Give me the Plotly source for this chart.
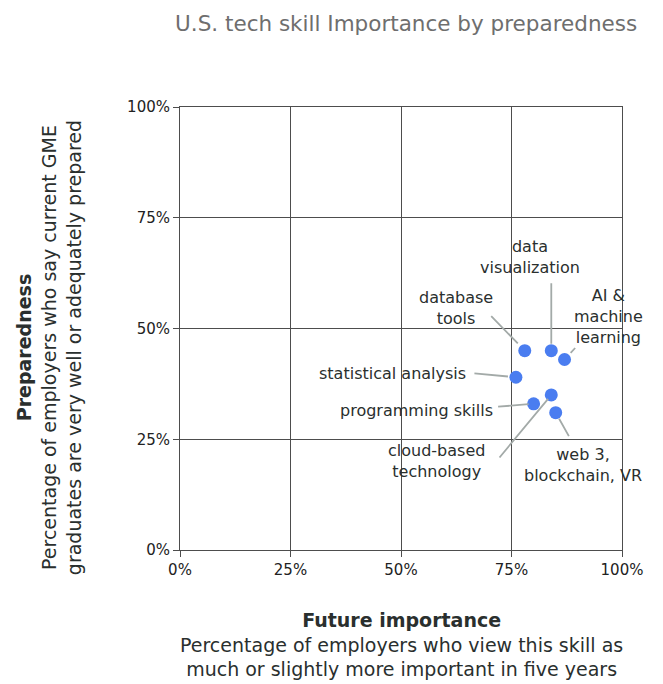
import plotly.graph_objects as go

# dados
skills = ['database tools', 'data visualization', 'AI & machine learning',
          'statistical analysis', 'cloud-based technology', 'programming skills',
          'web 3, blockchain, VR']
labels = ['database<br>tools', 'data<br>visualization', 'AI &<br>machine<br>learning',
          'statistical analysis', 'cloud-based<br>technology', 'programming skills',
          'web 3,<br>blockchain, VR']
importance = [78, 84, 87, 76, 84, 80, 85]
preparedness = [45, 45, 43, 39, 35, 33, 31]
tick_vals = [0, 25, 50, 75, 100]
tick_text = ['0%', '25%', '50%', '75%', '100%']

# posição dos rótulos (deslocamento em pixels a partir do ponto)
text_shift = [(-69, 43), (-21, 94), (44, 43), (-123, 4), (-115, -66), (-117, -7), (27, -52)]
# linhas de ligação: cauda (ax, ay) em pixels e folga junto ao ponto
leader = [(-35, -36, 10), (0, -69, 7), (12, -13, 9), (-43, -4, 8), (-53, 64, 5), (-37, 3, 5), (14, 25, 7)]

FONT = 'DejaVu Sans'
DARK = '#2a2f2e'

fig = go.Figure()
fig.add_trace(go.Scatter(
    x=importance, y=preparedness, mode='markers', text=skills,
    marker=dict(color='#4a7df0', size=13),
    hovertemplate='<b>%{text}</b><br>Importance: %{x}%<br>Preparedness: %{y}%<extra></extra>',
))

annotations = []
for i in range(len(skills)):
    ax, ay, gap = leader[i]
    annotations.append(dict(
        x=importance[i], y=preparedness[i], xref='x', yref='y',
        text='', showarrow=True, arrowhead=0, arrowwidth=1.8, arrowcolor='#a3aaa8',
        ax=ax, ay=ay, standoff=gap,
    ))
    dx, dy = text_shift[i]
    annotations.append(dict(
        x=importance[i], y=preparedness[i], xref='x', yref='y',
        text=labels[i], showarrow=False, xshift=dx, yshift=dy,
        xanchor='center', yanchor='middle', align='center',
        font=dict(family=FONT, size=16, color=DARK),
    ))

# títulos dos eixos
annotations.append(dict(
    x=0.5, y=-0.213, xref='paper', yref='paper', showarrow=False,
    xanchor='center', yanchor='middle', align='center',
    text='<b>Future importance</b><br>Percentage of employers who view this skill as<br>much or slightly more important in five years',
    font=dict(family=FONT, size=19, color=DARK),
))
annotations.append(dict(
    x=-0.296, y=0.456, xref='paper', yref='paper', showarrow=False, textangle=-90,
    xanchor='center', yanchor='middle', align='center',
    text='<b>Preparedness</b><br>Percentage of employers who say current GME<br>graduates are very well or adequately prepared',
    font=dict(family=FONT, size=19, color=DARK),
))

axis_style = dict(
    range=[0, 100], tickmode='array', tickvals=tick_vals, ticktext=tick_text,
    showgrid=True, gridcolor='#4d4d4d', gridwidth=1,
    showline=True, linecolor='#4d4d4d', linewidth=1, mirror=True,
    ticks='outside', ticklen=6, tickcolor='#4d4d4d',
    zeroline=False, fixedrange=True,
    tickfont=dict(family=FONT, size=15, color='#222'),
)

fig.update_layout(
    width=663, height=684,
    margin=dict(l=180, r=41, t=107, b=134),
    paper_bgcolor='white', plot_bgcolor='white',
    showlegend=False,
    title=dict(
        text='U.S. tech skill Importance by preparedness',
        xref='container', yref='container', x=0.961, y=0.966,
        xanchor='right', yanchor='middle',
        font=dict(family=FONT, size=21.5, color='#6e6e6e'),
    ),
    xaxis=dict(**axis_style),
    yaxis=dict(**axis_style),
    annotations=annotations,
)

# sem margem do <body>, para a figura ocupar a janela toda
fig.write_html("out.html", config={'displayModeBar': False},
               post_script="document.body.style.margin='0';")
